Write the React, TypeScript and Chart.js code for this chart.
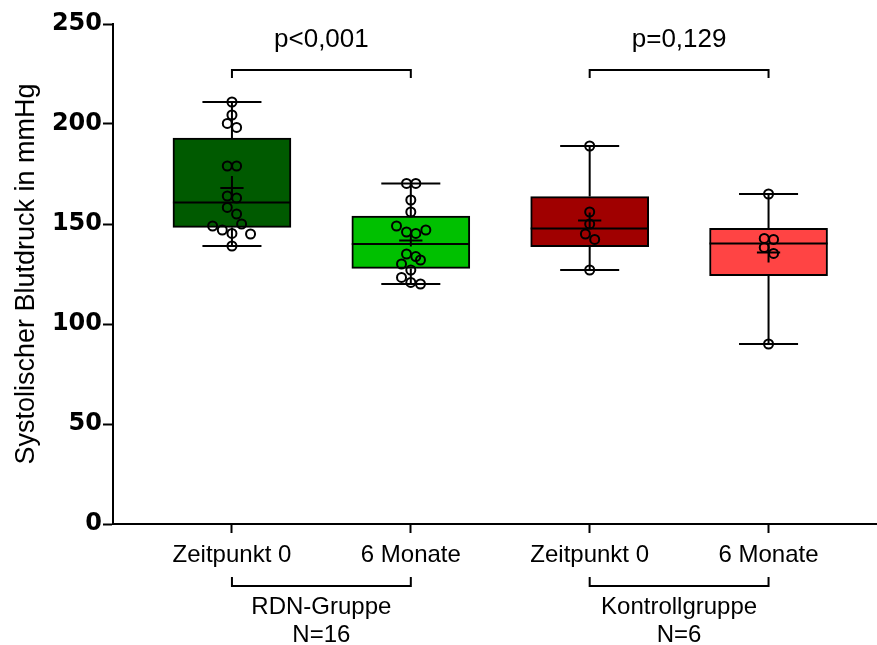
import React, { useEffect, useRef } from 'react';
import { Chart, registerables } from 'chart.js';

Chart.register(...registerables);

// ---- Data ----
const groupLabels = ['Zeitpunkt 0', '6 Monate', 'Zeitpunkt 0', '6 Monate'];
const groupPositions = [1, 2, 3, 4];
const boxColors = ['#005a00', '#00c000', '#a00000', '#ff4444'];
const q1 = [148.3, 127.8, 138.7, 124.2];
const q3 = [193, 154, 163.7, 147.8];
const medians = [160.7, 140, 147.7, 140.3];
const whiskerMin = [139, 120, 127, 90];
const whiskerMax = [211, 170.3, 189, 165];
const means = [168, 141.7, 151.7, 135.8];
const sems = [6, 3, 4, 5];

const rdnBaseline = [211, 204.5, 200.3, 198.3, 179, 179, 164, 163, 158.3, 155, 150, 149, 147, 145.3, 145, 139];
const rdnBaselineJitter = [0, 0, -0.026, 0.026, -0.026, 0.026, -0.026, 0.026, -0.026, 0.026, 0.054, -0.108, -0.054, 0, 0.104, 0];
const rdn6m = [170.3, 170.3, 162, 156, 149, 146, 145.3, 147, 135, 133.7, 132, 130, 127, 123.3, 120.8, 120];
const rdn6mJitter = [-0.024, 0.028, 0, 0, -0.08, -0.024, 0.028, 0.084, -0.024, 0.028, 0.054, -0.052, 0, -0.052, 0, 0.054];
const ctrlBaseline = [189, 156, 150, 145, 142.3, 127];
const ctrlBaselineJitter = [0, 0, 0, -0.024, 0.028, 0];
const ctrl6m = [165, 142.8, 142.3, 138.3, 135.3, 90];
const ctrl6mJitter = [0, -0.024, 0.028, -0.024, 0.028, 0];

const pointSets = [rdnBaseline, rdn6m, ctrlBaseline, ctrl6m];
const jitterSets = [rdnBaselineJitter, rdn6mJitter, ctrlBaselineJitter, ctrl6mJitter];

const yTicks = [0, 50, 100, 150, 200, 250];
const yTitle = 'Systolischer Blutdruck in mmHg';

const comparisons = [
  { from: 1, to: 2, label: 'p<0,001' },
  { from: 3, to: 4, label: 'p=0,129' },
];
const groups = [
  { from: 1, to: 2, name: 'RDN-Gruppe', n: 'N=16' },
  { from: 3, to: 4, name: 'Kontrollgruppe', n: 'N=6' },
];

const LABEL_FONT = '"Liberation Sans", Arial, sans-serif';

const boxExtrasPlugin = {
  id: 'boxExtras',
  afterDatasetDraw(chart: any, args: any) {
    if (args.meta.type !== 'bar') return;
    const { ctx } = chart;
    const xs = chart.scales.x;
    const ys = chart.scales.y;
    ctx.save();
    ctx.strokeStyle = '#000';
    ctx.lineWidth = 2;
    groupPositions.forEach((pos, i) => {
      const cx = xs.getPixelForValue(pos);
      const capL = xs.getPixelForValue(pos - 0.165);
      const capR = xs.getPixelForValue(pos + 0.165);
      const bL = xs.getPixelForValue(pos - 0.33);
      const bR = xs.getPixelForValue(pos + 0.33);
      const mL = xs.getPixelForValue(pos - 0.065);
      const mR = xs.getPixelForValue(pos + 0.065);
      ctx.beginPath();
      ctx.moveTo(cx, ys.getPixelForValue(q3[i]));
      ctx.lineTo(cx, ys.getPixelForValue(whiskerMax[i]));
      ctx.moveTo(capL, ys.getPixelForValue(whiskerMax[i]));
      ctx.lineTo(capR, ys.getPixelForValue(whiskerMax[i]));
      ctx.moveTo(cx, ys.getPixelForValue(q1[i]));
      ctx.lineTo(cx, ys.getPixelForValue(whiskerMin[i]));
      ctx.moveTo(capL, ys.getPixelForValue(whiskerMin[i]));
      ctx.lineTo(capR, ys.getPixelForValue(whiskerMin[i]));
      ctx.moveTo(bL, ys.getPixelForValue(medians[i]));
      ctx.lineTo(bR, ys.getPixelForValue(medians[i]));
      ctx.moveTo(mL, ys.getPixelForValue(means[i]));
      ctx.lineTo(mR, ys.getPixelForValue(means[i]));
      ctx.moveTo(cx, ys.getPixelForValue(means[i] + sems[i]));
      ctx.lineTo(cx, ys.getPixelForValue(means[i] - sems[i]));
      ctx.stroke();
    });
    ctx.restore();
  },
  afterDraw(chart: any) {
    const { ctx, chartArea } = chart;
    const xs = chart.scales.x;
    const ys = chart.scales.y;
    ctx.save();
    ctx.strokeStyle = '#000';
    ctx.fillStyle = '#000';
    ctx.lineWidth = 2;
    // extend the x axis line to the canvas edge
    ctx.beginPath();
    ctx.moveTo(chartArea.right - 1, chartArea.bottom);
    ctx.lineTo(chart.width, chartArea.bottom);
    ctx.stroke();
    comparisons.forEach((c) => {
      const x1 = xs.getPixelForValue(c.from);
      const x2 = xs.getPixelForValue(c.to);
      const yLine = ys.getPixelForValue(227);
      ctx.beginPath();
      ctx.moveTo(x1, yLine + 8);
      ctx.lineTo(x1, yLine);
      ctx.lineTo(x2, yLine);
      ctx.lineTo(x2, yLine + 8);
      ctx.stroke();
      ctx.font = '26px ' + LABEL_FONT;
      ctx.textAlign = 'center';
      ctx.textBaseline = 'alphabetic';
      ctx.fillText(c.label, (x1 + x2) / 2, ys.getPixelForValue(238.5));
    });
    const b = chartArea.bottom;
    groups.forEach((g) => {
      const x1 = xs.getPixelForValue(g.from);
      const x2 = xs.getPixelForValue(g.to);
      ctx.beginPath();
      ctx.moveTo(x1, b + 53);
      ctx.lineTo(x1, b + 62);
      ctx.lineTo(x2, b + 62);
      ctx.lineTo(x2, b + 53);
      ctx.stroke();
      ctx.font = '24px ' + LABEL_FONT;
      ctx.textAlign = 'center';
      ctx.textBaseline = 'middle';
      ctx.fillText(g.name, (x1 + x2) / 2, b + 83);
      ctx.fillText(g.n, (x1 + x2) / 2, b + 111);
    });
    ctx.restore();
  },
};

export default function App() {
  const canvasRef = useRef<HTMLCanvasElement | null>(null);

  useEffect(() => {
    if (!canvasRef.current) return;
    const scatterSets = pointSets.map((vals, g) => ({
      type: 'scatter' as const,
      data: vals.map((v, i) => ({ x: groupPositions[g] + jitterSets[g][i], y: v })),
      pointRadius: 4.5,
      pointBorderWidth: 2,
      pointBorderColor: '#000',
      pointBackgroundColor: 'rgba(0,0,0,0)',
      borderColor: '#000',
      backgroundColor: 'rgba(0,0,0,0)',
      order: 0,
    }));
    const chart = new Chart(canvasRef.current, {
      type: 'bar',
      data: {
        datasets: [
          {
            type: 'bar',
            data: groupPositions.map((x, i) => ({ x, y: [q1[i], q3[i]] })) as any,
            backgroundColor: boxColors,
            borderColor: '#000',
            borderWidth: 2,
            borderSkipped: false,
            barThickness: 118,
            order: 10,
          } as any,
          ...scatterSets,
        ],
      },
      options: {
        animation: false,
        responsive: false,
        layout: { padding: { top: 24, right: 0, bottom: 0, left: 0 } },
        plugins: { legend: { display: false }, tooltip: { enabled: false } },
        scales: {
          x: {
            type: 'linear',
            offset: false,
            min: 0.335,
            max: 4.57,
            afterBuildTicks: (scale: any) => {
              scale.ticks = groupPositions.map((v) => ({ value: v }));
            },
            afterFit: (scale: any) => {
              scale.height = 121;
            },
            ticks: {
              autoSkip: false,
              maxRotation: 0,
              color: '#000',
              padding: 8,
              font: { family: LABEL_FONT, size: 24 },
              callback: (_v: any, index: number) => groupLabels[index],
            },
            grid: {
              offset: false,
              drawOnChartArea: false,
              drawTicks: true,
              tickLength: 9,
              tickWidth: 2,
              tickColor: '#000',
            },
            border: { display: true, color: '#000', width: 2 },
          },
          y: {
            type: 'linear',
            min: 0,
            max: 250,
            afterBuildTicks: (scale: any) => {
              scale.ticks = yTicks.map((v) => ({ value: v }));
            },
            afterFit: (scale: any) => {
              scale.width = 113;
            },
            ticks: {
              color: '#000',
              padding: 1,
              font: { family: '"DejaVu Sans", sans-serif', size: 24, weight: 'bold' },
            },
            grid: {
              drawOnChartArea: false,
              drawTicks: true,
              tickLength: 10,
              tickWidth: 2,
              tickColor: '#000',
            },
            border: { display: true, color: '#000', width: 2 },
            title: {
              display: true,
              text: yTitle,
              color: '#000',
              font: { family: LABEL_FONT, size: 27 },
              padding: { top: 10, bottom: 0 },
            },
          },
        },
      },
      plugins: [boxExtrasPlugin],
    } as any);
    return () => chart.destroy();
  }, []);

  return (
    <div style={{ position: 'absolute', left: 0, top: 0, width: 877, height: 645 }}>
      <canvas ref={canvasRef} width={877} height={645} style={{ display: 'block' }} />
    </div>
  );
}
